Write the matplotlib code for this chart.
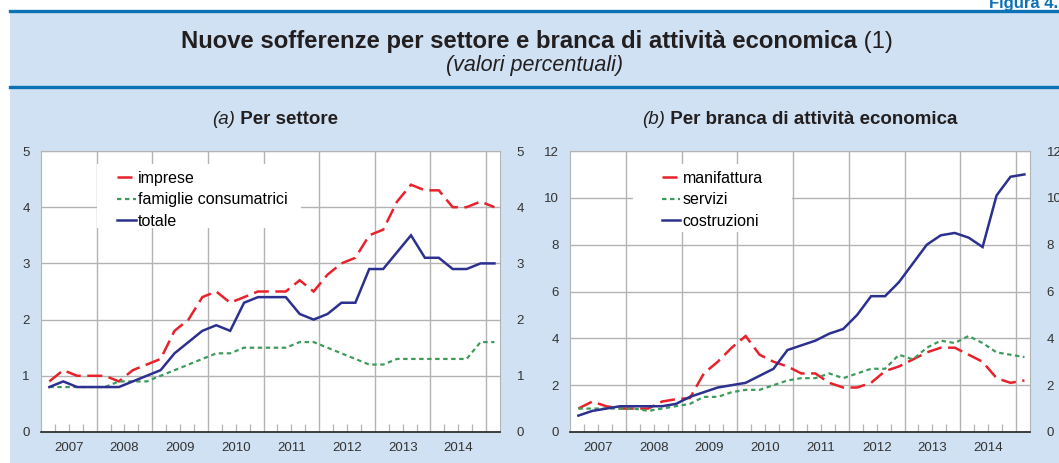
#!/usr/bin/env python3

"""Nuove sofferenze per settore e branca di attivita economica (two panels)."""

import matplotlib

matplotlib.use("Agg")

import matplotlib.pyplot as plt
from matplotlib.lines import Line2D
from matplotlib.patches import Rectangle
from matplotlib.ticker import FixedLocator, FuncFormatter, NullFormatter

plt.rcParams["font.family"] = ["Liberation Sans", "DejaVu Sans"]

# quarterly observations, 2007Q1 .. 2015Q1
QUARTERS = [(y, q) for y in range(2007, 2015) for q in range(1, 5)] + [(2015, 1)]

# (a) per settore
IMPRESE = [0.9, 1.1, 1.0, 1.0, 1.0, 0.9, 1.1, 1.2, 1.3, 1.8, 2.0, 2.4, 2.5,
           2.3, 2.4, 2.5, 2.5, 2.5, 2.7, 2.5, 2.8, 3.0, 3.1, 3.5, 3.6, 4.1,
           4.4, 4.3, 4.3, 4.0, 4.0, 4.1, 4.0]
FAMIGLIE = [0.8, 0.8, 0.8, 0.8, 0.8, 0.9, 0.9, 0.9, 1.0, 1.1, 1.2, 1.3, 1.4,
            1.4, 1.5, 1.5, 1.5, 1.5, 1.6, 1.6, 1.5, 1.4, 1.3, 1.2, 1.2, 1.3,
            1.3, 1.3, 1.3, 1.3, 1.3, 1.6, 1.6]
TOTALE = [0.8, 0.9, 0.8, 0.8, 0.8, 0.8, 0.9, 1.0, 1.1, 1.4, 1.6, 1.8, 1.9,
          1.8, 2.3, 2.4, 2.4, 2.4, 2.1, 2.0, 2.1, 2.3, 2.3, 2.9, 2.9, 3.2,
          3.5, 3.1, 3.1, 2.9, 2.9, 3.0, 3.0]

# (b) per branca di attivita economica
MANIFATTURA = [1.0, 1.3, 1.1, 1.0, 1.0, 1.0, 1.3, 1.4, 1.45, 2.5, 3.0, 3.6,
               4.1, 3.3, 3.0, 2.8, 2.5, 2.5, 2.1, 1.9, 1.9, 2.1, 2.6, 2.8,
               3.1, 3.4, 3.6, 3.6, 3.3, 3.0, 2.3, 2.1, 2.2]
SERVIZI = [1.0, 1.0, 1.0, 1.0, 1.0, 0.9, 1.0, 1.1, 1.2, 1.5, 1.5, 1.7, 1.8,
           1.8, 2.0, 2.2, 2.3, 2.3, 2.5, 2.3, 2.5, 2.7, 2.7, 3.3, 3.1, 3.6,
           3.9, 3.8, 4.1, 3.8, 3.4, 3.3, 3.2]
COSTRUZIONI = [0.7, 0.9, 1.0, 1.1, 1.1, 1.1, 1.1, 1.2, 1.5, 1.7, 1.9, 2.0,
               2.1, 2.4, 2.7, 3.5, 3.7, 3.9, 4.2, 4.4, 5.0, 5.8, 5.8, 6.4,
               7.2, 8.0, 8.4, 8.5, 8.3, 7.9, 10.1, 10.9, 11.0]

YEARS = list(range(2007, 2015))

W, H = 1059, 463
LIGHT_BG = "#cfe1f2"
BAR_BLUE = "#0a72b5"
TEXT = "#231f20"
GRID = "#b3b3b3"
RED = "#e8212b"
GREEN = "#3f9b5c"
NAVY = "#2c3190"


def fx(px):
    return px / W


def fy(py):
    return 1 - py / H


def mixed_text(fig, x_center, y, parts, size):
    """Write several differently styled pieces side by side, centred."""
    renderer = fig.canvas.get_renderer()
    texts = [fig.text(0, fy(y), s, size=size, va="baseline", ha="left",
                      color=TEXT, **kw) for s, kw in parts]
    widths = [t.get_window_extent(renderer).width for t in texts]
    x = x_center - sum(widths) / 2
    for t, w in zip(texts, widths):
        t.set_x(fx(x))
        x += w


def style_axis(ax, ymax, ystep):
    ax.set_xlim(2007, 2015.25)
    ax.set_ylim(0, ymax)
    ticks = list(range(0, ymax + 1, ystep))
    ax.set_yticks(ticks)
    ax.set_axisbelow(True)
    ax.grid(True, color=GRID, linewidth=1.0)

    ax.xaxis.set_major_locator(FixedLocator(YEARS[1:] + [2015]))
    ax.xaxis.set_major_formatter(NullFormatter())
    quarters = [y + k / 4 for y in YEARS + [2015] for k in (1, 2, 3)]
    ax.xaxis.set_minor_locator(FixedLocator([q for q in quarters if q < 2015.25]))
    ax.xaxis.set_minor_formatter(FuncFormatter(
        lambda v, pos: str(int(v)) if abs(v % 1 - 0.5) < 1e-6 and v < 2015 else ""))
    ax.tick_params(axis="x", which="major", length=0)
    ax.tick_params(axis="x", which="minor", direction="in", length=6,
                   width=0.9, color=GRID, pad=7, labelsize=9.5, labelcolor="#333333")
    ax.tick_params(axis="y", length=0, pad=8, labelsize=9.5, labelcolor="#333333")

    for side in ("left", "right", "top"):
        ax.spines[side].set_color(GRID)
    ax.spines["bottom"].set_color("#222222")
    ax.spines["bottom"].set_linewidth(1.2)

    twin = ax.twinx()
    twin.set_ylim(0, ymax)
    twin.set_yticks(ticks)
    twin.tick_params(axis="y", length=0, pad=12, labelsize=9.5, labelcolor="#333333")
    for spine in twin.spines.values():
        spine.set_visible(False)


def draw_panel(ax, series, legend_box, legend_anchor):
    xs = [y + (q - 1) / 4 + 0.15 for y, q in QUARTERS]
    handles = []
    for values, label, color, lw, dashes in series:
        (line,) = ax.plot(xs, values, color=color, linewidth=lw, label=label,
                          solid_joinstyle="miter", dash_joinstyle="miter")
        if dashes:
            line.set_dashes(dashes)
        handles.append(line)
    ax.add_patch(Rectangle(legend_box[:2], legend_box[2], legend_box[3],
                           transform=ax.transAxes, facecolor="white",
                           edgecolor="none", zorder=1))
    ax.legend(handles=handles, loc="upper left", bbox_to_anchor=legend_anchor,
              frameon=False, fontsize=11.5, handlelength=1.15, handletextpad=0.15,
              labelspacing=0.42, borderpad=0, borderaxespad=0)


def main():
    fig = plt.figure(figsize=(W / 100, H / 100), dpi=100, facecolor="white")

    fig.add_artist(Rectangle((fx(10), 0), 1 - fx(10), fy(10),
                             transform=fig.transFigure, facecolor=LIGHT_BG,
                             edgecolor="none", zorder=0))
    for y in (11, 87):
        fig.add_artist(Line2D([fx(10), 1], [fy(y), fy(y)], color=BAR_BLUE,
                              linewidth=2.4, zorder=1))
    fig.text(fx(1058), fy(8), "Figura 4.", ha="right", va="baseline",
             size=12, weight="bold", color=BAR_BLUE)

    mixed_text(fig, 537, 48, [
        ("Nuove sofferenze per settore e branca di attività economica",
         {"weight": "bold"}),
        (" (1)", {}),
    ], size=17.2)
    fig.text(fx(534), fy(71), "(valori percentuali)", ha="center",
             va="baseline", size=15.5, style="italic", color=TEXT)

    mixed_text(fig, 275, 124, [("(a)", {"style": "italic"}),
                               (" Per settore", {"weight": "bold"})], size=13.5)
    mixed_text(fig, 800, 124, [("(b)", {"style": "italic"}),
                               (" Per branca di attività economica",
                                {"weight": "bold"})], size=13.5)

    bottom, top = 432, 151
    ax_a = fig.add_axes([fx(41), fy(bottom), fx(500 - 41), (bottom - top) / H])
    ax_b = fig.add_axes([fx(570), fy(bottom), fx(1030 - 570), (bottom - top) / H])

    style_axis(ax_a, 5, 1)
    style_axis(ax_b, 12, 2)

    draw_panel(ax_a, [
        (IMPRESE, "imprese", RED, 1.8, (6.0, 2.6)),
        (FAMIGLIE, "famiglie consumatrici", GREEN, 1.6, (2.0, 1.6)),
        (TOTALE, "totale", NAVY, 1.8, None),
    ], legend_box=(0.122, 0.725, 0.444, 0.227), legend_anchor=(0.166, 0.93))

    draw_panel(ax_b, [
        (MANIFATTURA, "manifattura", RED, 1.8, (6.0, 2.6)),
        (SERVIZI, "servizi", GREEN, 1.6, (2.0, 1.6)),
        (COSTRUZIONI, "costruzioni", NAVY, 1.8, None),
    ], legend_box=(0.137, 0.712, 0.346, 0.24), legend_anchor=(0.2, 0.93))

    fig.savefig("out.png", dpi=100, facecolor=fig.get_facecolor())
    plt.close(fig)


if __name__ == "__main__":
    main()
